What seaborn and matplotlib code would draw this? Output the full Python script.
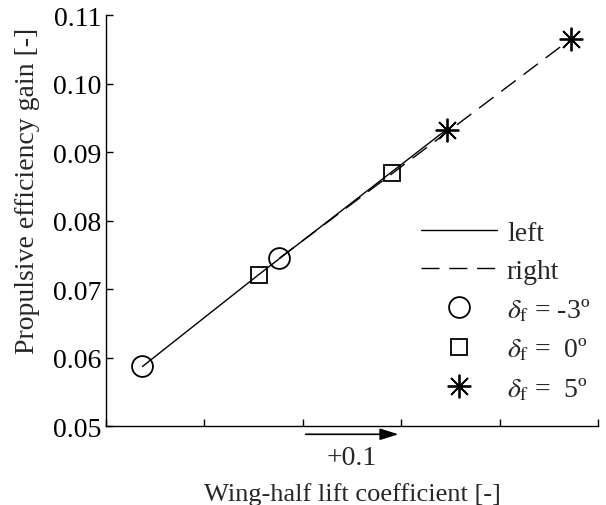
import pandas as pd
import numpy as np
import seaborn as sns
import matplotlib.pyplot as plt
from matplotlib.lines import Line2D

# --- data (x is relative, only the +0.1 scale is shown) ---
sides = ["left", "left", "left", "right", "right", "right"]
deflections = ["-3", "0", "5", "-3", "0", "5"]
lift = [0.037, 0.155, 0.346, 0.176, 0.291, 0.472]
eff_gain = [0.0587, 0.0721, 0.0933, 0.0745, 0.0869, 0.1065]

df = pd.DataFrame({"side": sides, "deflection": deflections,
                   "lift": lift, "gain": eff_gain})

sns.set_style("ticks")
plt.rcParams["font.family"] = ["Liberation Serif", "DejaVu Serif"]
plt.rcParams["mathtext.fontset"] = "stix"
plt.rcParams["xtick.direction"] = "in"
plt.rcParams["ytick.direction"] = "in"

fs = 20
fig = plt.figure(figsize=(6.06, 5.06), dpi=100)
ax = fig.add_axes([0.175, 0.156, 0.812, 0.812])

dash = (0, (13, 7))
sns.lineplot(data=df, x="lift", y="gain", style="side", sort=False,
             dashes={"left": "", "right": (13, 7)}, color="black",
             linewidth=1, legend=False, ax=ax)

marker_map = {"-3": "o", "0": "s", "5": (8, 2, 0)}
sizes_map = {"-3": 15, "0": 12, "5": 17}
for d, m in marker_map.items():
    sub = df[df["deflection"] == d]
    ax.plot(sub["lift"], sub["gain"], linestyle="none", marker=m,
            markersize=sizes_map[d], markerfacecolor="none",
            markeredgecolor="black", markeredgewidth=1.3)

ax.set_xlim(0, 0.5)
ax.set_ylim(0.05, 0.11)
ax.set_xticks(np.arange(0, 0.51, 0.1))
ax.set_xticklabels([])
ax.set_yticks(np.arange(0.05, 0.111, 0.01))
ax.set_yticklabels([f"{v:.2f}" for v in np.arange(0.05, 0.111, 0.01)])
ax.tick_params(axis="both", length=5, width=1, labelsize=fs, colors="black")
for s in ["top", "right"]:
    ax.spines[s].set_visible(False)
for s in ["left", "bottom"]:
    ax.spines[s].set_linewidth(1)
    ax.spines[s].set_color("black")

ax.set_xlabel("Wing-half lift coefficient [-]", fontsize=19)
ax.xaxis.set_label_coords(0.5, -0.136)
ax.set_ylabel("Propulsive efficiency gain [-]", fontsize=fs)
ax.yaxis.set_label_coords(-0.135, 0.575)

# scale arrow below the x axis
ax.annotate("", xy=(0.3, -0.02), xytext=(0.2, -0.02),
            xycoords=("data", "axes fraction"),
            arrowprops=dict(arrowstyle="-|>,head_length=0.8,head_width=0.25",
                            color="black", lw=1.2, mutation_scale=14),
            annotation_clip=False)
ax.text(0.25, -0.045, "+0.1", transform=ax.get_xaxis_transform(),
        ha="center", va="top", fontsize=fs)

handles = [
    Line2D([], [], color="black", lw=1, linestyle="-"),
    Line2D([], [], color="black", lw=1, linestyle=dash),
    Line2D([], [], color="black", linestyle="none", marker="o", markersize=15,
           markerfacecolor="none", markeredgewidth=1.3),
    Line2D([], [], color="black", linestyle="none", marker="s", markersize=12,
           markerfacecolor="none", markeredgewidth=1.3),
    Line2D([], [], color="black", linestyle="none", marker=(8, 2, 0),
           markersize=17, markeredgewidth=1.3),
]
labels = ["left", "right",
          r"$\delta_\mathrm{f}$ = -3º",
          r"$\delta_\mathrm{f}$ =  0º",
          r"$\delta_\mathrm{f}$ =  5º"]
ax.legend(handles, labels, loc="lower right", bbox_to_anchor=(1.012, 0.025),
          frameon=False, fontsize=fs, handlelength=2.75, handletextpad=0.35,
          labelspacing=0.46, borderpad=0)

fig.savefig("out.png", dpi=100)
